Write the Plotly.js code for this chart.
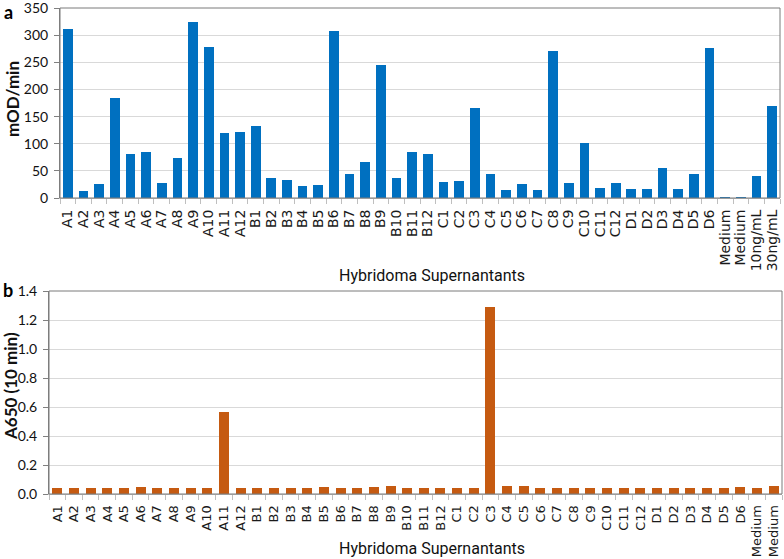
<!DOCTYPE html>
<html>
<head>
<meta charset="utf-8">
<script src="https://cdn.plot.ly/plotly-3.0.1.min.js"></script>
<style>
  body { margin: 0; background: #fff; }
  #chart { width: 784px; height: 559px; }
</style>
</head>
<body>
<div id="chart"></div>
<script>
"use strict";

// DATA
const labelsA = ["A1","A2","A3","A4","A5","A6","A7","A8","A9","A10","A11","A12",
  "B1","B2","B3","B4","B5","B6","B7","B8","B9","B10","B11","B12",
  "C1","C2","C3","C4","C5","C6","C7","C8","C9","C10","C11","C12",
  "D1","D2","D3","D4","D5","D6","Medium","Medium","10ng/mL","30ng/mL"];
const rateA = [312,13,25,184,81,84,27,73,325,279,119,121,
  133,36,33,22,24,307,44,67,245,37,84,82,
  30,31,166,44,15,25,15,271,28,102,19,27,
  17,16,56,17,44,276,2,2,40,169];

const labelsB = ["A1","A2","A3","A4","A5","A6","A7","A8","A9","A10","A11","A12",
  "B1","B2","B3","B4","B5","B6","B7","B8","B9","B10","B11","B12",
  "C1","C2","C3","C4","C5","C6","C7","C8","C9","C10","C11","C12",
  "D1","D2","D3","D4","D5","D6","Medium","Medium"];
const absB = [0.04,0.04,0.04,0.04,0.04,0.046,0.04,0.04,0.04,0.04,0.565,0.04,
  0.04,0.04,0.04,0.04,0.045,0.04,0.04,0.045,0.057,0.04,0.04,0.04,
  0.04,0.04,1.29,0.052,0.052,0.04,0.04,0.04,0.04,0.04,0.04,0.04,
  0.04,0.04,0.04,0.04,0.04,0.046,0.04,0.057];

const BLUE = "#0070c0";
const ORANGE = "#c55a11";

// HELPERS
const idx = (arr) => arr.map((_, i) => i);

// pixel -> paper coords (plot area 49..782 x 8..494)
const px = (x) => (x - 49) / 733;
const py = (y) => (494 - y) / 486;

function xAxis(labels, domain, anchor, fsize){
  return {
    domain: domain, anchor: anchor,
    range: [-0.5, labels.length - 0.5],
    tickmode: "array", tickvals: idx(labels), ticktext: labels,
    tickangle: -90, ticks: "", ticklabelstandoff: 5,
    tickfont: {family: "DejaVu Sans", size: fsize, color: "#1a1a1a"},
    minor: {tickmode: "linear", tick0: 0.5, dtick: 1, ticks: "outside",
      ticklen: 5, tickcolor: "#bfbfbf", showgrid: false},
    showline: true, linecolor: "#bfbfbf", linewidth: 1,
    showgrid: false, zeroline: false, fixedrange: true, automargin: false
  };
}

function yAxis(top, dtick, fmt, domain, anchor, fsize){
  return {
    domain: domain, anchor: anchor, range: [0, top * 1.0005],
    tickmode: "linear", tick0: 0, dtick: dtick,
    tickformat: fmt, ticks: "outside", ticklen: 5, tickcolor: "#808080",
    ticklabelstandoff: 3, ticklabeloverflow: "allow",
    tickfont: {family: "Lato", size: fsize, color: "#111"},
    showline: true, linecolor: "#808080", linewidth: 1,
    gridcolor: "#d9d9d9", gridwidth: 1, zeroline: false,
    fixedrange: true, automargin: false
  };
}

const traces = [
  {type: "bar", x: idx(labelsA), y: rateA, xaxis: "x", yaxis: "y",
    width: 0.62, marker: {color: BLUE}, hoverinfo: "skip"},
  {type: "bar", x: idx(labelsB), y: absB, xaxis: "x2", yaxis: "y2",
    width: 0.6, marker: {color: ORANGE}, hoverinfo: "skip"}
];

const titleFont = {family: "Liberation Sans Narrow, Roboto, sans-serif", size: 16, color: "#111"};
const boldFont = {family: "Lato", size: 17, color: "#111"};

function note(text, x, y, font, angle){
  return {text: text, xref: "paper", yref: "paper", x: px(x), y: py(y),
    xanchor: "center", yanchor: "middle", textangle: angle || 0,
    showarrow: false, font: font};
}

const layout = {
  width: 784, height: 559,
  margin: {l: 49, r: 2, t: 8, b: 65},
  paper_bgcolor: "#fff", plot_bgcolor: "#fff",
  showlegend: false, bargap: 0,
  xaxis: xAxis(labelsA, [px(60), px(780)], "y", 14),
  yaxis: yAxis(350, 50, "", [py(198), 1], "x", 14),
  xaxis2: xAxis(labelsB, [0, 1], "y2", 13),
  yaxis2: yAxis(1.4, 0.2, ".1f", [0, py(291)], "x2", 14),
  shapes: [
    {type: "rect", xref: "x domain", yref: "y domain", x0: 0, x1: 1, y0: 0, y1: 1,
      line: {color: "#7a7a7a", width: 1}},
    {type: "rect", xref: "x2 domain", yref: "y2 domain", x0: 0, x1: 1, y0: 0, y1: 1,
      line: {color: "#7a7a7a", width: 1}}
  ],
  annotations: [
    note("<b>a</b>", 8, 12, {family: "Lato", size: 18, color: "#000"}),
    note("<b>b</b>", 8, 290, {family: "Lato", size: 18, color: "#000"}),
    note("<b>mOD/min</b>", 13, 99, boldFont, -90),
    note("<b>A650 (10 min)</b>", 10, 386, boldFont, -90),
    note("Hybridoma Supernantants", 432, 275, titleFont),
    note("Hybridoma Supernantants", 432, 548, titleFont)
  ]
};

Plotly.newPlot("chart", traces, layout, {staticPlot: true, displayModeBar: false});
</script>
</body>
</html>
